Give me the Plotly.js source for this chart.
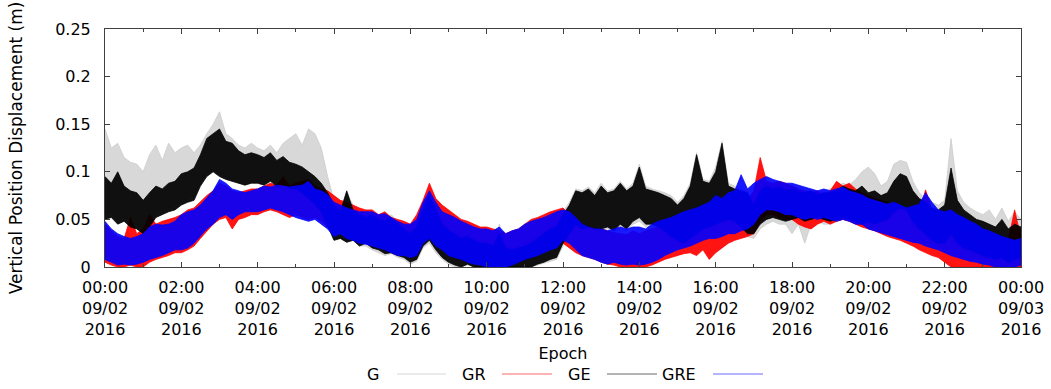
<!DOCTYPE html>
<html>
<head>
<meta charset="utf-8">
<script src="https://cdn.plot.ly/plotly-3.0.1.min.js"></script>
<style>
  html, body { margin: 0; padding: 0; background: #fff; }
  #chart { width: 1051px; height: 389px; }
</style>
</head>
<body>
<div id="chart"></div>
<script>
// Epoch grid: 10-minute samples from 2016-09-02 00:00 to 2016-09-03 00:00
const START = Date.UTC(2016, 8, 2, 0, 0);
const STEP_MS = 10 * 60 * 1000;

// Series names
const seriesNames = ['G', 'GR', 'GE', 'GRE'];

// Vertical displacement envelopes (m), one value per 10 minutes
const G_low = [
  0.055,0.058,0.050,0.052,0.048,0.045, 0.040,0.045,0.058,0.060,0.062,0.065,
  0.070,0.072,0.075,0.088,0.098,0.102, 0.098,0.095,0.092,0.090,0.088,0.090,
  0.090,0.088,0.092,0.086,0.088,0.085, 0.085,0.080,0.075,0.068,0.060,0.045,
  0.028,0.030,0.026,0.028,0.022,0.022, 0.018,0.015,0.012,0.014,0.010,0.008,
  0.003,0.006,0.020,0.025,0.015,0.008, 0.003,0.000,0.000,0.002,0.000,0.000,
  0.000,0.000,0.000,0.000,0.000,0.000, 0.000,0.000,0.002,0.004,0.006,0.008,
  0.022,0.032,0.042,0.038,0.040,0.038, 0.038,0.040,0.035,0.042,0.038,0.045,
  0.048,0.042,0.042,0.040,0.035,0.030, 0.025,0.022,0.028,0.032,0.038,0.040,
  0.040,0.045,0.045,0.045,0.040,0.032, 0.030,0.040,0.045,0.048,0.045,0.045,
  0.035,0.045,0.025,0.045,0.048,0.045, 0.045,0.048,0.050,0.048,0.045,0.042,
  0.045,0.042,0.045,0.048,0.055,0.060, 0.058,0.045,0.038,0.032,0.026,0.022,
  0.022,0.030,0.022,0.018,0.015,0.012, 0.010,0.008,0.005,0.008,0.003,0.005,
  0.008
];
const G_high = [
  0.145,0.125,0.130,0.115,0.110,0.108, 0.100,0.118,0.128,0.112,0.130,0.120,
  0.125,0.128,0.120,0.128,0.140,0.150, 0.163,0.140,0.135,0.128,0.125,0.130,
  0.125,0.122,0.128,0.120,0.130,0.135, 0.140,0.128,0.145,0.140,0.125,0.095,
  0.070,0.062,0.078,0.065,0.058,0.055, 0.058,0.052,0.050,0.055,0.048,0.042,
  0.038,0.045,0.062,0.078,0.062,0.048, 0.040,0.038,0.032,0.034,0.030,0.028,
  0.028,0.025,0.045,0.022,0.020,0.022, 0.025,0.028,0.032,0.038,0.042,0.045,
  0.058,0.068,0.082,0.080,0.084,0.078, 0.088,0.080,0.082,0.090,0.082,0.088,
  0.108,0.085,0.082,0.080,0.078,0.075, 0.068,0.075,0.088,0.120,0.092,0.090,
  0.105,0.132,0.088,0.085,0.082,0.080, 0.068,0.082,0.088,0.085,0.086,0.082,
  0.085,0.082,0.080,0.082,0.078,0.080, 0.082,0.084,0.088,0.086,0.092,0.100,
  0.105,0.098,0.085,0.090,0.108,0.112, 0.110,0.090,0.078,0.072,0.068,0.065,
  0.070,0.135,0.080,0.068,0.062,0.058, 0.055,0.060,0.050,0.062,0.048,0.058,
  0.050
];
const GR_low = [
  0.005,0.002,0.000,0.000,0.002,0.000, 0.000,0.005,0.008,0.010,0.012,0.015,
  0.015,0.018,0.022,0.030,0.038,0.045, 0.050,0.052,0.040,0.050,0.052,0.055,
  0.055,0.058,0.060,0.058,0.055,0.052, 0.055,0.052,0.050,0.052,0.048,0.042,
  0.035,0.038,0.032,0.030,0.028,0.025, 0.022,0.020,0.018,0.015,0.012,0.015,
  0.010,0.012,0.028,0.032,0.025,0.020, 0.015,0.010,0.008,0.005,0.005,0.003,
  0.000,0.000,0.002,0.000,0.003,0.005, 0.008,0.010,0.015,0.018,0.020,0.022,
  0.025,0.020,0.015,0.012,0.010,0.008, 0.005,0.003,0.002,0.000,0.000,0.000,
  0.000,0.000,0.002,0.005,0.008,0.010, 0.012,0.014,0.015,0.012,0.018,0.008,
  0.015,0.020,0.025,0.028,0.030,0.032, 0.035,0.048,0.055,0.055,0.052,0.050,
  0.050,0.045,0.042,0.040,0.045,0.048, 0.045,0.048,0.050,0.048,0.045,0.042,
  0.040,0.038,0.035,0.032,0.030,0.028, 0.025,0.022,0.018,0.015,0.012,0.010,
  0.005,0.000,0.000,0.000,0.000,0.000, 0.000,0.000,0.000,0.000,0.000,0.000,
  0.000
];
const GR_high = [
  0.045,0.038,0.032,0.030,0.052,0.035, 0.040,0.055,0.045,0.048,0.050,0.052,
  0.055,0.060,0.062,0.068,0.075,0.080, 0.088,0.085,0.080,0.078,0.080,0.082,
  0.082,0.085,0.088,0.086,0.095,0.085, 0.088,0.090,0.092,0.085,0.082,0.080,
  0.075,0.070,0.068,0.065,0.062,0.060, 0.060,0.055,0.058,0.052,0.050,0.048,
  0.045,0.055,0.070,0.088,0.072,0.065, 0.060,0.055,0.050,0.048,0.045,0.042,
  0.042,0.040,0.038,0.035,0.038,0.040, 0.045,0.050,0.052,0.055,0.058,0.060,
  0.062,0.055,0.048,0.045,0.042,0.040, 0.040,0.038,0.036,0.035,0.034,0.038,
  0.035,0.038,0.040,0.042,0.045,0.048, 0.050,0.052,0.055,0.058,0.060,0.062,
  0.065,0.068,0.070,0.072,0.075,0.070, 0.080,0.115,0.090,0.088,0.090,0.088,
  0.085,0.082,0.080,0.078,0.080,0.075, 0.080,0.090,0.085,0.088,0.082,0.078,
  0.075,0.072,0.070,0.068,0.065,0.062, 0.060,0.062,0.058,0.081,0.060,0.052,
  0.045,0.042,0.040,0.038,0.035,0.032, 0.030,0.028,0.032,0.030,0.028,0.060,
  0.030
];
const GE_low = [
  0.050,0.052,0.045,0.048,0.042,0.040, 0.035,0.042,0.052,0.055,0.058,0.060,
  0.065,0.068,0.070,0.085,0.095,0.100, 0.095,0.092,0.090,0.088,0.086,0.088,
  0.088,0.086,0.090,0.085,0.086,0.082, 0.082,0.078,0.072,0.066,0.058,0.042,
  0.028,0.030,0.026,0.028,0.022,0.025, 0.020,0.018,0.014,0.015,0.012,0.010,
  0.005,0.008,0.022,0.028,0.018,0.010, 0.005,0.002,0.000,0.003,0.000,0.000,
  0.000,0.000,0.000,0.000,0.000,0.000, 0.000,0.000,0.003,0.005,0.008,0.010,
  0.025,0.035,0.045,0.040,0.042,0.040, 0.040,0.042,0.038,0.045,0.040,0.048,
  0.052,0.045,0.045,0.042,0.038,0.032, 0.028,0.025,0.030,0.035,0.040,0.042,
  0.045,0.048,0.050,0.048,0.042,0.035, 0.035,0.045,0.050,0.052,0.050,0.048,
  0.050,0.052,0.048,0.050,0.052,0.050, 0.048,0.050,0.052,0.050,0.048,0.045,
  0.048,0.045,0.048,0.050,0.058,0.062, 0.060,0.048,0.040,0.035,0.028,0.025,
  0.025,0.035,0.025,0.020,0.018,0.015, 0.012,0.010,0.008,0.010,0.005,0.008,
  0.010
];
const GE_high = [
  0.095,0.088,0.100,0.085,0.080,0.078, 0.070,0.078,0.085,0.082,0.088,0.090,
  0.098,0.100,0.104,0.118,0.135,0.140, 0.145,0.132,0.130,0.122,0.118,0.120,
  0.118,0.115,0.120,0.112,0.116,0.110, 0.108,0.105,0.100,0.095,0.088,0.078,
  0.065,0.058,0.080,0.060,0.055,0.052, 0.055,0.050,0.048,0.052,0.045,0.040,
  0.035,0.042,0.060,0.075,0.060,0.045, 0.038,0.035,0.030,0.032,0.028,0.025,
  0.025,0.022,0.035,0.020,0.018,0.020, 0.022,0.025,0.030,0.035,0.040,0.042,
  0.055,0.065,0.080,0.078,0.082,0.075, 0.085,0.078,0.080,0.088,0.080,0.085,
  0.105,0.082,0.080,0.078,0.075,0.072, 0.065,0.072,0.085,0.118,0.090,0.088,
  0.100,0.130,0.085,0.082,0.080,0.078, 0.065,0.080,0.085,0.082,0.084,0.080,
  0.082,0.080,0.078,0.080,0.076,0.078, 0.078,0.080,0.085,0.082,0.080,0.085,
  0.078,0.080,0.075,0.078,0.090,0.098, 0.095,0.080,0.072,0.068,0.062,0.060,
  0.065,0.104,0.070,0.060,0.055,0.050, 0.048,0.045,0.042,0.050,0.040,0.045,
  0.042
];
const GRE_low = [
  0.008,0.005,0.002,0.003,0.002,0.003, 0.005,0.008,0.010,0.012,0.015,0.018,
  0.018,0.020,0.025,0.032,0.040,0.045, 0.052,0.055,0.050,0.055,0.058,0.058,
  0.058,0.060,0.062,0.060,0.058,0.055, 0.052,0.050,0.048,0.050,0.045,0.040,
  0.032,0.035,0.030,0.028,0.025,0.024, 0.022,0.020,0.018,0.015,0.012,0.012,
  0.010,0.012,0.025,0.030,0.022,0.018, 0.012,0.010,0.008,0.005,0.003,0.002,
  0.000,0.000,0.000,0.000,0.002,0.005, 0.008,0.010,0.012,0.015,0.018,0.020,
  0.028,0.025,0.018,0.012,0.010,0.008, 0.005,0.003,0.005,0.003,0.002,0.003,
  0.002,0.003,0.005,0.008,0.012,0.015, 0.018,0.020,0.022,0.025,0.028,0.030,
  0.030,0.032,0.035,0.035,0.038,0.040, 0.045,0.055,0.060,0.060,0.058,0.055,
  0.055,0.052,0.050,0.052,0.050,0.052, 0.050,0.048,0.050,0.048,0.045,0.045,
  0.040,0.038,0.036,0.034,0.032,0.030, 0.028,0.026,0.025,0.022,0.020,0.018,
  0.015,0.012,0.010,0.008,0.006,0.005, 0.003,0.002,0.000,0.000,0.000,0.000,
  0.002
];
const GRE_high = [
  0.048,0.040,0.035,0.032,0.030,0.032, 0.035,0.042,0.045,0.044,0.045,0.048,
  0.055,0.058,0.060,0.065,0.072,0.080, 0.092,0.088,0.082,0.080,0.078,0.080,
  0.082,0.085,0.084,0.086,0.085,0.084, 0.085,0.086,0.090,0.082,0.080,0.076,
  0.068,0.065,0.062,0.060,0.058,0.058, 0.058,0.055,0.056,0.052,0.048,0.045,
  0.045,0.050,0.068,0.080,0.068,0.058, 0.055,0.052,0.048,0.045,0.042,0.040,
  0.040,0.038,0.042,0.035,0.038,0.040, 0.045,0.048,0.050,0.052,0.055,0.058,
  0.060,0.058,0.052,0.045,0.042,0.040, 0.040,0.038,0.040,0.042,0.040,0.042,
  0.042,0.040,0.045,0.048,0.050,0.052, 0.055,0.058,0.060,0.062,0.065,0.068,
  0.075,0.072,0.078,0.080,0.097,0.082, 0.088,0.092,0.095,0.092,0.090,0.088,
  0.088,0.086,0.084,0.082,0.080,0.082, 0.080,0.082,0.084,0.080,0.078,0.076,
  0.072,0.070,0.068,0.066,0.068,0.065, 0.062,0.064,0.066,0.078,0.068,0.060,
  0.058,0.060,0.055,0.052,0.048,0.045, 0.040,0.038,0.035,0.032,0.030,0.028,
  0.030
];

// Axis tick values
const yTickVals = [0, 0.05, 0.1, 0.15, 0.2, 0.25];

const epochs = G_low.map((_, i) => START + i * STEP_MS);

const styles = {
  G:   { line: 'rgba(200,200,200,0.9)', fill: 'rgba(200,200,200,0.7)', legend: '#e4e4e4' },
  GR:  { line: 'rgba(255,0,0,0.95)',    fill: 'rgba(255,0,0,0.92)',    legend: '#ff9b9b' },
  GE:  { line: 'rgba(0,0,0,0.95)',      fill: 'rgba(0,0,0,0.93)',      legend: '#9a9a9a' },
  GRE: { line: 'rgba(0,0,255,0.95)',    fill: 'rgba(0,0,255,0.9)',     legend: '#9b9bff' }
};
const envelopes = {
  G: [G_low, G_high], GR: [GR_low, GR_high], GE: [GE_low, GE_high], GRE: [GRE_low, GRE_high]
};

function build(name) {
  const [lo, hi] = envelopes[name];
  return {
    type: 'scatter', mode: 'lines', name: name, showlegend: false, hoverinfo: 'skip',
    x: epochs.concat(epochs.slice().reverse()),
    y: lo.concat(hi.slice().reverse()),
    fill: 'toself', fillcolor: styles[name].fill,
    line: { color: styles[name].line, width: 0.8 }
  };
}
const traces = seriesNames.map(build);

// Legend (text left of sample, as in the reference)
const W = 916, H = 238;
const px = v => (v - 105) / W;
const py = v => (267 - v) / H;
const legendPos = { G: [381, 397, 446], GR: [488, 502, 552], GE: [593, 607, 657], GRE: [698, 713, 763] };
const annotations = [], shapes = [];
seriesNames.forEach(n => {
  const [tr, l0, l1] = legendPos[n];
  annotations.push({ xref: 'paper', yref: 'paper', x: px(tr), y: py(374), xanchor: 'right', yanchor: 'middle',
    text: n, showarrow: false, font: { family: 'DejaVu Sans', size: 16, color: '#000' } });
  shapes.push({ type: 'line', xref: 'paper', yref: 'paper', x0: px(l0), x1: px(l1), y0: py(374), y1: py(374),
    line: { color: styles[n].legend, width: 1.5 } });
});

const axisColor = '#404040';
const tf = { family: 'DejaVu Sans', size: 16, color: '#000' };
const layout = {
  width: 1051, height: 389,
  margin: { l: 105, r: 30, t: 29, b: 122, pad: 0 },
  paper_bgcolor: '#fff', plot_bgcolor: '#fff',
  font: tf,
  showlegend: false,
  xaxis: {
    type: 'date',
    range: ['2016-09-02 00:00', '2016-09-03 00:00'],
    tick0: '2016-09-02 00:00', dtick: 7200000,
    tickformat: '%H:%M<br>%m/%d<br>%Y',
    ticks: 'inside', ticklen: 5, tickcolor: axisColor, tickwidth: 1,
    showline: true, linecolor: axisColor, linewidth: 1, mirror: 'ticks',
    showgrid: false, zeroline: false,
    minor: { dtick: 3600000, ticks: 'inside', ticklen: 3, tickcolor: axisColor, showgrid: false },
    ticklabelstandoff: 6,
    tickfont: tf,
    title: { text: 'Epoch', standoff: 10, font: tf },
    automargin: false
  },
  yaxis: {
    range: [0, 0.25], tickvals: yTickVals,
    ticks: 'inside', ticklen: 5, tickcolor: axisColor, tickwidth: 1,
    showline: true, linecolor: axisColor, linewidth: 1, mirror: 'ticks',
    showgrid: false, zeroline: false,
    ticklabelstandoff: 10,
    tickfont: tf,
    title: { text: 'Vertical Position Displacement (m)', standoff: 28, font: { family: 'DejaVu Sans', size: 17, color: '#000' } },
    automargin: false
  },
  annotations: annotations,
  shapes: shapes
};

Plotly.newPlot('chart', traces, layout, { staticPlot: true, displayModeBar: false });
</script>
</body>
</html>
